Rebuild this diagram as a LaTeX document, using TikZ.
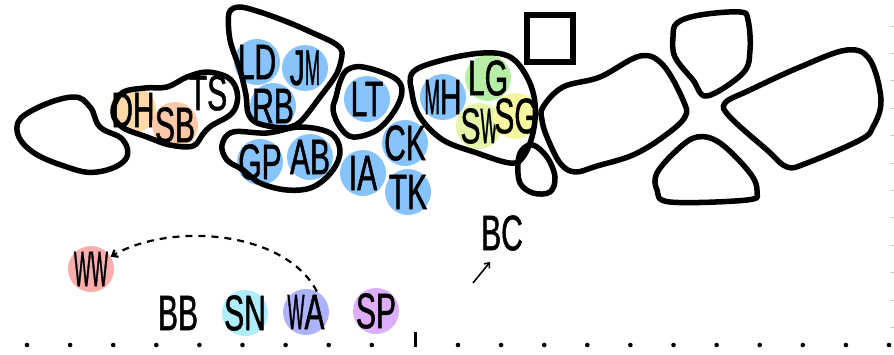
\documentclass[tikz,border=0pt]{standalone}
\usepackage{fontspec}
\usepackage{graphicx}
\setmainfont[FakeStretch=0.6,FakeBold=1]{Liberation Sans}
\usetikzlibrary{arrows.meta}
\definecolor{cblue}{HTML}{87C3FC}
\definecolor{cdh}{HTML}{FDDAA8}
\definecolor{csb}{HTML}{FCC9A8}
\definecolor{clg}{HTML}{B6EEA6}
\definecolor{csw}{HTML}{E4F7A8}
\definecolor{csg}{HTML}{F8F8A0}
\definecolor{cww}{HTML}{F9ADAD}
\definecolor{csn}{HTML}{AEEEFC}
\definecolor{cwa}{HTML}{ADB3FA}
\definecolor{csp}{HTML}{DDAEFB}
\newcommand\nW{\scalebox{0.6}[1]{W}}
\newcommand\nM{\scalebox{0.62}[1]{M}}
\tikzset{
  person/.style={circle, minimum size=46pt, inner sep=0pt, fill=#1,
    font=\fontsize{50}{50}\selectfont,
    execute at begin node={\hbox to 0pt\bgroup\hss},
    execute at end node={\hss\egroup}},
  plain/.style={inner sep=0pt, font=\fontsize{50}{50}\selectfont},
  blob/.style={draw=black, line width=5.5pt, line join=round, line cap=round},
  dotmark/.style={fill=black},
}
\begin{document}
\begin{tikzpicture}[x=1pt,y=-1pt]
\useasboundingbox (0,0) rectangle (894,354);
% people
\node[person=cdh] (DH) at (133,110) {DH};
\node[person=csb] (SB) at (175,125) {SB};
\node[plain] (TS) at (208,93) {TS};
\node[person=cblue] (LD) at (257,62) {LD};
\node[person=cblue] (JM) at (305,68) {J\nM};
\node[person=cblue] (RB) at (273,106) {RB};
\node[person=cblue] (GP) at (260,162) {GP};
\node[person=cblue] (AB) at (310,157) {AB};
\node[person=cblue] (LT) at (367,99) {LT};
\node[person=cblue] (CK) at (405,143) {CK};
\node[person=cblue] (IA) at (363,173) {IA};
\node[person=cblue] (TK) at (408,192) {TK};
\node[person=cblue] (MH) at (443,97) {\nM H};
\node[person=clg] (LG) at (488,78) {LG};
\node[person=csw] (SW) at (479,126) {S\nW};
\node[person=csg] (SG) at (516,116) {SG};
\node[person=cww] (WW) at (91,269) {\nW\nW};
\node[plain] (BB) at (178,313) {BB};
\node[person=csn] (SN) at (245,313) {SN};
\node[person=cwa] (WA) at (306,312) {\nW A};
\node[person=csp] (SP) at (376,311) {SP};
\node[plain] (BC) at (502,233) {BC};
% blobs
\draw[blob] plot[smooth cycle, tension=0.7] coordinates {(17,127) (33,110) (72,97) (90,107) (100,127) (123,140) (125,160) (97,172) (67,167) (30,150)};
\draw[blob] plot[smooth cycle, tension=0.6] coordinates {(113,112) (122,93) (145,88) (167,87) (187,77) (207,72) (227,77) (236,88) (237,103) (230,115) (211,126) (203,134) (193,146) (170,145) (147,137) (122,127)};
\draw[blob] plot[smooth cycle, tension=0.5] coordinates {(229,13) (240,7) (263,13) (290,23) (313,33) (334,43) (342,52) (337,73) (320,97) (300,122) (283,128) (257,123) (248,113) (246,95) (240,70) (230,40)};
\draw[blob] plot[smooth cycle, tension=0.6] coordinates {(222,145) (233,132) (267,133) (300,127) (330,133) (340,150) (333,170) (313,187) (287,190) (260,183) (243,170) (227,160)};
\draw[blob] plot[smooth cycle, tension=0.6] coordinates {(347,70) (363,67) (393,77) (402,90) (395,110) (377,130) (353,137) (340,127) (333,110) (336,97) (340,82)};
\draw[blob] plot[smooth cycle, tension=0.6] coordinates {(413,72) (443,60) (483,53) (510,57) (527,77) (535,103) (533,133) (523,157) (510,163) (477,153) (443,140) (420,117) (412,93)};
\draw[blob, line cap=butt, line join=miter] (527,15) rectangle (573,62);
\draw[blob] plot[smooth cycle, tension=0.6] coordinates {(522,150) (533,145) (547,157) (555,177) (550,192) (533,193) (520,183) (518,163)};
\draw[blob] plot[smooth cycle, tension=0.6] coordinates {(543,107) (563,87) (600,77) (640,56) (663,65) (683,100) (685,117) (663,137) (633,155) (597,166) (575,172) (560,163) (547,137) (542,120)};
\draw[blob] plot[smooth cycle, tension=0.6] coordinates {(677,23) (700,15) (740,12) (748,20) (750,50) (743,73) (707,96) (693,80) (675,57) (673,37)};
\draw[blob] plot[smooth cycle, tension=0.6] coordinates {(657,173) (677,150) (697,137) (720,143) (750,173) (757,192) (747,200) (670,202) (657,190)};
\draw[blob] plot[smooth cycle, tension=0.6] coordinates {(725,103) (750,90) (800,67) (847,50) (870,60) (881,100) (873,127) (860,140) (807,163) (787,167) (767,150) (730,117)};
% connectors
\draw[dashed, dash pattern=on 7pt off 6pt, line width=2.2pt, -{Straight Barb[length=5pt,width=8pt]}]
  (WA.62) .. controls (285,230) and (170,222) .. (WW.32);
\coordinate (bcs) at (473,283);
\coordinate (bce) at (490,262);
\draw[line width=1.6pt, -{Straight Barb[length=4pt,width=7pt]}] (bcs) -- (bce);
% bottom scale
\foreach \k in {0,...,8,10,11,...,20}{
  \fill[dotmark] ({27+43.1*\k},345) circle (2.3pt);
}
\coordinate (tk1) at (415,332);
\coordinate (tk2) at (415,347);
\draw[line width=3pt] (tk1) -- (tk2);
% right edge ticks
\foreach \k in {0,...,11}{
  \draw[gray!40, line width=0.8pt] (890,{26+27.4*\k}) -- (894,{26+27.4*\k});
}
\end{tikzpicture}
\end{document}
